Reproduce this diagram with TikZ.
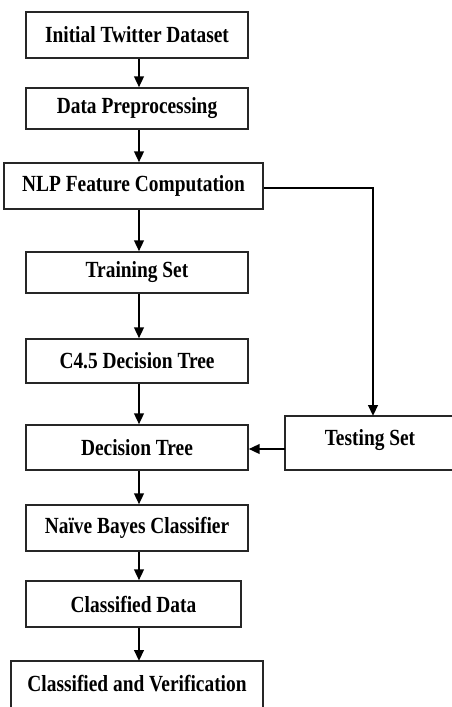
\documentclass[tikz,border=0pt]{standalone}
\usepackage{fontspec}
\usepackage{graphicx}
\setmainfont{Liberation Serif}
\usetikzlibrary{arrows.meta}
\newcommand\stretchlbl[1]{\scalebox{1}[1.19]{\bfseries #1}}
\begin{document}
\begin{tikzpicture}[x=1pt,y=-1pt,
  box/.style={draw=black!85,line width=1.3pt,inner sep=0pt,font=\fontsize{19.4}{20}\selectfont},
  txt/.style={inner sep=0pt,font=\fontsize{19.4}{20}\selectfont},
  arr/.style={line width=2.4pt,-{Triangle[length=11pt,width=9.5pt]}},
  ln/.style={line width=2.4pt}]
\useasboundingbox (0,0) rectangle (451,707);
\fill[white] (0,0) rectangle (451,707);
\coordinate (ax) at (139,0);
\node[box,minimum width=222pt,minimum height=46pt] (b1) at (137,35) {\stretchlbl{Initial Twitter Dataset}};
\node[box,minimum width=222pt,minimum height=41pt] (b2) at (137,108.5) {\stretchlbl{Data Preprocessing}};
\node[box,minimum width=259pt,minimum height=46pt] (b3) at (133.5,186) {\stretchlbl{NLP Feature Computation}};
\node[box,minimum width=222pt,minimum height=41pt] (b4) at (137,272.5) {\stretchlbl{Training Set}};
\node[box,minimum width=222pt,minimum height=44pt] (b5) at (137,361) {\stretchlbl{C4.5 Decision Tree}};
\node[box,minimum width=222pt,minimum height=45pt] (b6) at (137,447.5) {\stretchlbl{Decision Tree}};
\node[box,minimum width=222pt,minimum height=46pt] (b7) at (137,528) {\stretchlbl{Naïve Bayes Classifier}};
\node[box,minimum width=215pt,minimum height=46pt] (b8) at (133.5,604) {\stretchlbl{Classified Data}};
\node[txt] (b9) at (137,684) {\stretchlbl{Classified and Verification}};
\draw[draw=black!85,line width=1.3pt] (11,708) -- (11,661) -- (263,661) -- (263,708);
\node[txt] (ts) at (370,440) {\stretchlbl{Testing Set}};
\coordinate (tsNW) at (285,416);
\coordinate (tsSW) at (285,470);
\coordinate (tsW) at (285,449);
\coordinate (tsN) at (373,416);
\draw[draw=black!85,line width=1.3pt] (452,416) -- (tsNW) -- (tsSW) -- (452,470);
\draw[arr] (b1.south -| ax) -- (b2.north -| ax);
\draw[arr] (b2.south -| ax) -- (b3.north -| ax);
\draw[arr] (b3.south -| ax) -- (b4.north -| ax);
\draw[arr] (b4.south -| ax) -- (b5.north -| ax);
\draw[arr] (b5.south -| ax) -- (b6.north -| ax);
\draw[arr] (b6.south -| ax) -- (b7.north -| ax);
\draw[arr] (b7.south -| ax) -- (b8.north -| ax);
\draw[arr] (b8.south -| ax) -- (139,661);
\draw[arr] (b3.east |- 0,188) -| (tsN);
\draw[arr] (tsW) -- (b6.east |- tsW);
\end{tikzpicture}
\end{document}
